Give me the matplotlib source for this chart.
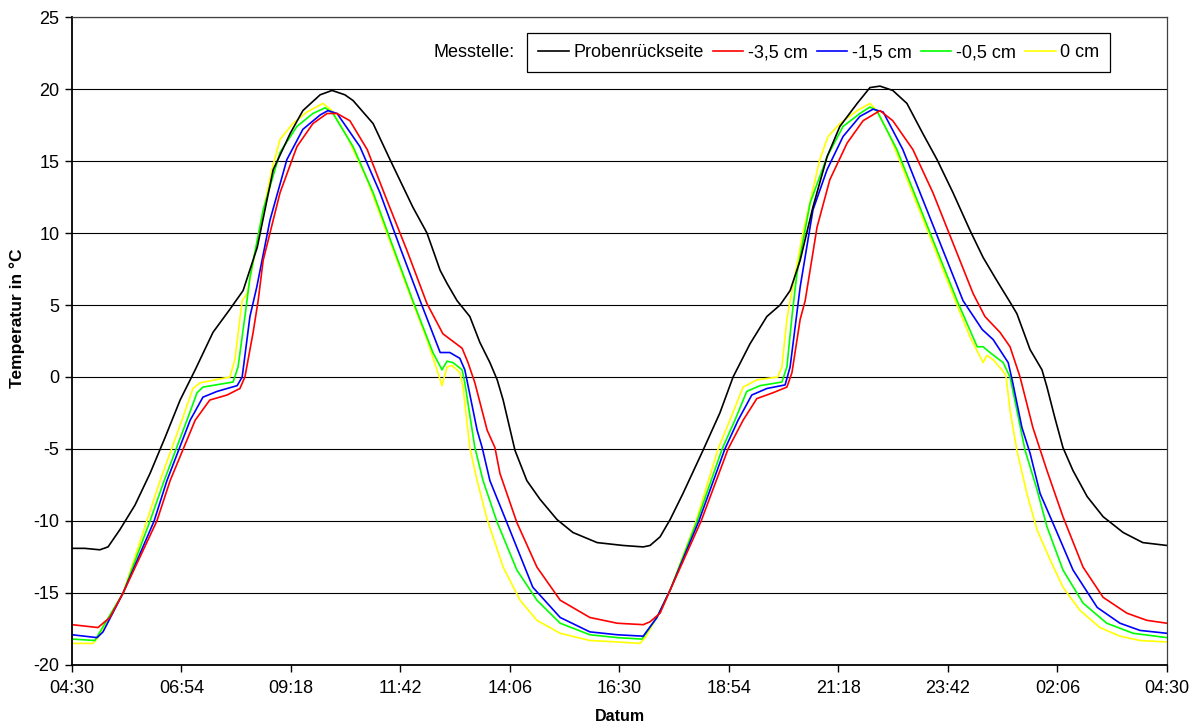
import matplotlib
matplotlib.use("Agg")
import matplotlib.pyplot as plt

plt.rcParams['font.family'] = ['Liberation Sans', 'DejaVu Sans']
plt.rcParams['axes.unicode_minus'] = False

# time axis: hours after 04:30 (one full day)
tick_pos = [0, 2.4, 4.8, 7.2, 9.6, 12.0, 14.4, 16.8, 19.2, 21.6, 24.0]
tick_labels = ["04:30", "06:54", "09:18", "11:42", "14:06", "16:30",
               "18:54", "21:18", "23:42", "02:06", "04:30"]

# Probenrückseite
back_t = [0, 0.28, 0.61, 0.79, 1.05, 1.38, 1.71, 2.04, 2.37, 2.70, 3.09, 3.46, 3.75,
          4.06, 4.41, 4.78, 5.06, 5.44, 5.70, 5.98, 6.16, 6.60, 6.97, 7.47, 7.78,
          8.07, 8.22, 8.44, 8.72, 8.94, 9.16, 9.32, 9.45, 9.71, 9.97, 10.26, 10.63,
          10.98, 11.51, 12.08, 12.52, 12.67, 12.89, 13.11, 13.39, 13.83, 14.20, 14.49,
          14.86, 15.23, 15.52, 15.74, 15.96, 16.24, 16.55, 16.83, 17.21, 17.49, 17.71,
          17.99, 18.30, 18.65, 18.96, 19.31, 19.68, 19.97, 20.27, 20.56, 20.71, 21.00,
          21.26, 21.37, 21.54, 21.72, 21.94, 22.25, 22.60, 23.04, 23.47, 24.00]
back_T = [-11.9, -11.9, -12.0, -11.8, -10.6, -8.9, -6.7, -4.2, -1.6, 0.5, 3.1, 4.7, 6.0,
          9.0, 14.4, 16.9, 18.5, 19.6, 19.9, 19.6, 19.2, 17.6, 15.1, 11.8, 10.0,
          7.4, 6.5, 5.3, 4.2, 2.4, 1.0, -0.2, -1.6, -5.1, -7.2, -8.5, -9.9,
          -10.8, -11.5, -11.7, -11.8, -11.7, -11.1, -9.9, -8.1, -5.1, -2.5, 0.0,
          2.3, 4.2, 5.0, 6.0, 8.1, 11.8, 15.3, 17.4, 19.0, 20.1, 20.2,
          19.9, 19.0, 16.9, 15.1, 12.8, 10.2, 8.3, 6.7, 5.2, 4.4, 1.9,
          0.5, -0.7, -2.8, -4.9, -6.5, -8.3, -9.7, -10.8, -11.5, -11.7]

# -3,5 cm
red_t = [0, 0.57, 0.68, 0.83, 1.12, 1.86, 2.15, 2.70, 3.02, 3.40, 3.68, 3.79, 3.97,
         4.08, 4.19, 4.56, 4.93, 5.28, 5.59, 5.81, 6.09, 6.47, 6.90, 7.34, 7.78,
         8.13, 8.55, 8.68, 8.83, 9.10, 9.27, 9.38, 9.75, 10.19, 10.70, 11.35, 11.95,
         12.52, 12.67, 12.89, 13.11, 13.79, 14.38, 14.71, 15.01, 15.36, 15.67, 15.78,
         15.96, 16.07, 16.33, 16.61, 16.99, 17.34, 17.71, 17.99, 18.43, 18.87, 19.31,
         19.75, 20.01, 20.34, 20.56, 20.78, 21.06, 21.37, 21.72, 22.16, 22.60, 23.12,
         23.56, 24.00]
red_T = [-17.2, -17.4, -17.1, -16.7, -15.0, -10.0, -7.2, -3.0, -1.6, -1.25, -0.8, 0.0, 3.1,
         5.3, 8.1, 12.8, 16.0, 17.6, 18.3, 18.3, 17.8, 15.8, 12.3, 8.8, 5.1,
         3.0, 2.0, 1.0, -0.4, -3.7, -4.9, -6.7, -10.1, -13.2, -15.5, -16.7, -17.1,
         -17.2, -17.0, -16.4, -14.8, -10.0, -5.0, -3.0, -1.5, -1.1, -0.7, 0.3,
         4.0, 5.3, 10.4, 13.7, 16.25, 17.8, 18.5, 17.8, 15.8, 12.8, 9.3,
         5.8, 4.2, 3.1, 2.1, 0.0, -3.5, -6.5, -9.7, -13.2, -15.3, -16.4,
         -16.9, -17.1]

# -1,5 cm
blue_t = [0, 0.55, 0.68, 1.12, 1.80, 2.08, 2.59, 2.87, 3.18, 3.62, 3.73, 3.90, 4.05,
          4.34, 4.71, 5.06, 5.44, 5.61, 5.81, 6.31, 6.75, 7.19, 7.63, 8.07, 8.28,
          8.50, 8.61, 8.88, 8.99, 9.16, 9.53, 10.10, 10.70, 11.35, 11.95, 12.52, 12.82,
          13.11, 13.74, 14.31, 14.60, 14.90, 15.23, 15.63, 15.74, 15.96, 16.24, 16.55,
          16.90, 17.27, 17.56, 17.78, 18.21, 18.65, 19.09, 19.53, 19.95, 20.19, 20.52,
          20.62, 20.82, 21.00, 21.22, 21.59, 21.94, 22.47, 22.97, 23.41, 24.00]
blue_T = [-17.9, -18.1, -17.7, -15.0, -10.0, -7.2, -3.0, -1.4, -1.0, -0.6, 0.0, 4.2, 6.25,
          10.9, 15.1, 17.2, 18.2, 18.5, 18.3, 16.0, 12.8, 9.0, 5.3, 1.7, 1.7,
          1.3, 0.5, -3.7, -4.9, -7.2, -10.1, -14.6, -16.7, -17.7, -17.9, -18.0, -16.7,
          -14.8, -10.0, -5.0, -3.0, -1.25, -0.8, -0.55, 0.7, 6.25, 11.6, 14.4,
          16.7, 18.1, 18.6, 18.4, 15.8, 12.3, 8.8, 5.3, 3.3, 2.6, 1.0,
          -0.4, -3.5, -5.3, -8.1, -10.8, -13.4, -16.0, -17.1, -17.6, -17.8]

# -0,5 cm
green_t = [0, 0.50, 1.12, 1.71, 2.02, 2.52, 2.74, 2.87, 3.53, 3.64, 3.79, 3.90, 4.19,
           4.56, 4.93, 5.28, 5.55, 5.72, 6.16, 6.60, 7.04, 7.47, 7.91, 8.11, 8.22,
           8.35, 8.55, 8.61, 8.83, 9.01, 9.32, 9.75, 10.19, 10.70, 11.35, 11.95, 12.49,
           12.82, 13.11, 13.70, 14.25, 14.53, 14.79, 15.08, 15.56, 15.67, 15.78, 15.89,
           16.18, 16.55, 16.90, 17.27, 17.49, 17.64, 18.08, 18.52, 18.96, 19.40, 19.84,
           19.97, 20.12, 20.41, 20.56, 20.71, 20.89, 21.15, 21.37, 21.72, 22.16, 22.68,
           23.26, 24.00]
green_T = [-18.2, -18.3, -15.0, -10.0, -7.2, -3.0, -1.1, -0.7, -0.35, 0.7, 4.2, 6.9, 11.6,
           15.6, 17.4, 18.3, 18.7, 18.3, 16.0, 12.8, 9.0, 5.3, 1.7, 0.5, 1.1,
           1.0, 0.5, -0.4, -4.9, -7.2, -10.1, -13.4, -15.5, -17.1, -17.9, -18.1, -18.2,
           -16.7, -14.8, -10.0, -5.0, -3.0, -1.0, -0.6, -0.35, 0.7, 4.2, 7.2,
           12.1, 15.3, 17.4, 18.3, 18.75, 18.5, 15.8, 12.3, 8.8, 5.3, 2.1,
           2.1, 1.7, 1.0, 0.0, -2.3, -5.1, -7.8, -10.4, -13.4, -15.7, -17.1,
           -17.8, -18.1]

# 0 cm
yellow_t = [0, 0.46, 0.57, 1.12, 1.64, 1.93, 2.41, 2.65, 2.81, 3.46, 3.57, 3.73, 3.84,
            4.12, 4.38, 4.56, 4.84, 5.15, 5.50, 5.70, 6.03, 6.47, 6.90, 7.34, 7.78,
            8.02, 8.11, 8.22, 8.33, 8.50, 8.57, 8.72, 8.88, 9.10, 9.45, 9.82, 10.19,
            10.70, 11.35, 11.95, 12.45, 12.56, 12.82, 13.11, 13.68, 14.16, 14.42, 14.71,
            15.01, 15.47, 15.56, 15.67, 15.74, 16.02, 16.39, 16.57, 16.83, 17.21, 17.49,
            17.64, 17.93, 18.37, 18.81, 19.24, 19.68, 19.97, 20.05, 20.19, 20.38, 20.47,
            20.56, 20.71, 20.93, 21.15, 21.44, 21.72, 22.09, 22.53, 22.97, 23.41, 24.00]
yellow_T = [-18.5, -18.5, -18.1, -15.0, -10.0, -7.2, -3.0, -0.8, -0.4, 0.0, 1.2, 5.3, 5.8,
            10.4, 14.4, 16.5, 17.6, 18.4, 19.0, 18.5, 16.7, 13.7, 10.0, 6.25, 2.6,
            0.3, -0.6, 0.7, 0.8, 0.3, -0.7, -4.9, -7.2, -9.9, -13.2, -15.5, -16.9,
            -17.8, -18.3, -18.4, -18.5, -18.1, -16.7, -14.8, -10.0, -5.0, -3.0, -0.7,
            -0.2, 0.0, 0.7, 4.0, 5.3, 10.0, 15.1, 16.7, 17.6, 18.5, 19.0,
            18.5, 16.7, 13.2, 9.7, 6.25, 2.8, 1.0, 1.5, 1.2, 0.5, 0.1,
            -2.3, -5.1, -8.1, -10.6, -12.7, -14.6, -16.2, -17.4, -18.0, -18.3, -18.4]

series = [
    ("Probenrückseite", back_t, back_T, "#000000"),
    ("-3,5 cm", red_t, red_T, "#FF0000"),
    ("-1,5 cm", blue_t, blue_T, "#0000FF"),
    ("-0,5 cm", green_t, green_T, "#00FF00"),
    ("0 cm", yellow_t, yellow_T, "#FFFF00"),
]

fig = plt.figure(figsize=(11.98, 7.27), dpi=100)
ax = fig.add_axes([0.0601, 0.0853, 0.9140, 0.8913])

# plot in reverse so black ends on top
for name, t, T, c in reversed(series):
    ax.plot(t, T, color=c, linewidth=1.2, label=name, solid_joinstyle='round')

ax.set_xlim(0, 24)
ax.set_ylim(-20, 25)
ax.set_xticks(tick_pos)
ax.set_xticklabels(tick_labels)
ax.set_yticks(range(-20, 30, 5))
ax.yaxis.grid(True, color='black', linewidth=0.8)
ax.set_axisbelow(True)
ax.tick_params(direction='out', length=5, labelsize=13, width=1, pad=4)
ax.tick_params(axis='x', pad=6)
for side in ['left', 'bottom']:
    ax.spines[side].set_linewidth(1.3)
for side in ['top', 'right']:
    ax.spines[side].set_linewidth(0.9)
    ax.spines[side].set_color('#404040')

ax.set_xlabel("Datum", fontsize=11.5, fontweight='bold')
ax.set_ylabel("Temperatur in °C", fontsize=12.5, fontweight='bold')
ax.xaxis.set_label_coords(0.50, -0.068)
ax.yaxis.set_label_coords(-0.043, 0.535)

handles, labels = ax.get_legend_handles_labels()
handles, labels = handles[::-1], labels[::-1]
leg = ax.legend(handles, labels, ncol=5, loc='upper right',
                bbox_to_anchor=(0.948, 0.975), fontsize=13, frameon=True,
                fancybox=False, edgecolor='black', framealpha=1,
                handlelength=1.7, handletextpad=0.25, columnspacing=0.5,
                borderpad=0.6, borderaxespad=0)
leg.get_frame().set_linewidth(0.9)
ax.text(0.4046, 0.946, "Messtelle:", transform=ax.transAxes, fontsize=13,
        ha='right', va='center')

fig.savefig("out.png", dpi=100)
